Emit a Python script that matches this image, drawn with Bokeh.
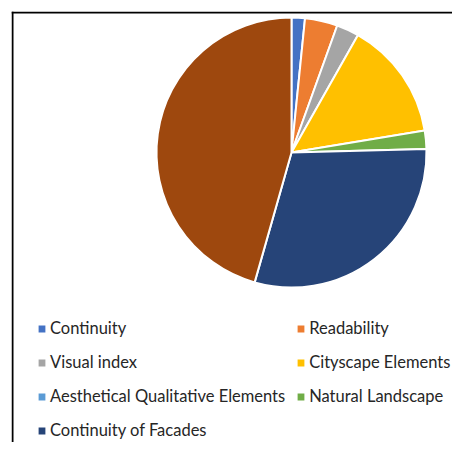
import math
from bokeh.plotting import figure
from bokeh.models import ColumnDataSource, Range1d, Legend, LegendItem, Span
from bokeh.embed import file_html
from bokeh.resources import INLINE

categories = ["Continuity", "Readability", "Visual index", "Cityscape Elements",
              "Aesthetical Qualitative Elements", "Natural Landscape",
              "Continuity of Facades", "Other"]
values = [1.6, 3.9, 2.7, 14.2, 0.0, 2.2, 29.8, 45.6]
colors = ["#4472C4", "#ED7D31", "#A5A5A5", "#FFC000", "#5B9BD5", "#70AD47",
          "#264478", "#9E480E"]
legend_count = 7

W, H = 452, 442
BL, BT = 11, 11          # canvas border left/top
FW, FH = W - BL, H - BT  # frame size
CX, CY = 280, 141        # pie centre in frame pixels
R = 135

total = sum(values)
starts, ends = [], []
cum = 0.0
for v in values:
    a0 = math.pi / 2 - 2 * math.pi * cum / total
    cum += v
    a1 = math.pi / 2 - 2 * math.pi * cum / total
    starts.append(a0)
    ends.append(a1)
radii = [R if v > 0 else 0 for v in values]

src = ColumnDataSource(dict(cat=categories, val=values, color=colors,
                            start=starts, end=ends, rad=radii,
                            x=[0] * len(values), y=[0] * len(values)))

xr = Range1d(-CX, FW - CX)
yr = Range1d(-(FH - CY), CY)
p = figure(width=W, height=H, output_backend="svg", toolbar_location=None,
           x_range=xr, y_range=yr,
           min_border_left=BL, min_border_top=BT,
           min_border_right=0, min_border_bottom=0)
p.axis.visible = False
p.grid.visible = False
p.outline_line_color = None
p.background_fill_color = "white"
p.border_fill_color = "white"

r = p.wedge(x="x", y="y", radius="rad", start_angle="start", end_angle="end",
            direction="clock", fill_color="color", line_color="white",
            line_width=2, source=src)

items = [LegendItem(label=categories[i], renderers=[r], index=i)
         for i in range(legend_count)]
legend = Legend(items=items, orientation="horizontal", ncols=2,
                location=(25, 0), padding=0, margin=0, spacing=10,
                label_height=24, glyph_width=11, glyph_height=11,
                label_standoff=3, label_text_font="Lato",
                label_text_font_size="16.5px", label_text_color="#262626",
                border_line_color=None, background_fill_alpha=0)
p.add_layout(legend, "center")

p.add_layout(Span(location=xr.start + 1, dimension="height",
                  line_color="black", line_width=2))
p.add_layout(Span(location=yr.end - 1, dimension="width",
                  line_color="black", line_width=2))

open("out.html", "w").write(file_html(p, INLINE))
